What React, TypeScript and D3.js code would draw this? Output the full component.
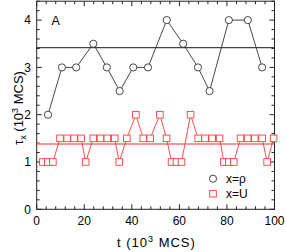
import * as d3 from 'd3';

// tau_rho (circles)
const rhoT = [4.75, 10.6, 16.6, 23.8, 29.5, 34.9, 40.6, 46.8, 54.7, 61.6, 67.8, 72.7, 80.8, 88.8, 94.8];
const rhoTau = [2, 3, 3, 3.5, 3, 2.5, 3, 3, 4, 3.5, 3, 2.5, 4, 4, 3];
const rhoMean = 3.42;

// tau_U (squares)
const uT = [2.6, 4.7, 6.8, 9.8, 12.8, 15.7, 18.7, 20.6, 23.8, 26.8, 29.7, 32.8, 34.7, 37.9, 41.7, 44.8, 47.7,
  51.8, 54.6, 56.7, 58.8, 60.9, 64.7, 67.9, 70.8, 73.8, 76.9, 78.7, 80.8, 82.9, 85.7, 88.7, 91.7, 94.8, 96.9, 99.6];
const uTau = [1, 1, 1, 1.5, 1.5, 1.5, 1.5, 1, 1.5, 1.5, 1.5, 1.5, 1, 1.5, 2, 1.5, 1.5,
  2, 1.5, 1, 1, 1, 2, 1.5, 1.5, 1.5, 1.5, 1, 1, 1, 1.5, 1.5, 1.5, 1.5, 1, 1.5];
const uMean = 1.38;

const xMajor = [0, 20, 40, 60, 80, 100];
const yMajor = [0, 1, 2, 3, 4];

const W = 286;
const H = 252;
const font = '"Liberation Sans", Arial, sans-serif';
const red = '#ff3b3b';

export default function App() {
  const x = d3.scaleLinear().domain([0, 100]).range([36.7, 274.5]);
  const y = d3.scaleLinear().domain([0, 4.4]).range([209.3, 1.2]);
  const [x0, x1] = x.range();
  const [y0, y1] = y.range();

  const xMinor = d3.range(0, 100.01, 4);
  const yMinor = d3.range(0, 4.41, 0.2);

  const rhoPts = rhoT.map((t, i) => [x(t), y(rhoTau[i])] as [number, number]);
  const uPts = uT.map((t, i) => [x(t), y(uTau[i])] as [number, number]);
  const line = d3.line();

  const sq = 6.6;
  const r = 3.6;

  return (
    <svg width={W} height={H} style={{ position: 'absolute', left: 0, top: 0, background: '#fff' }} fontFamily={font}>
      {/* ticks */}
      <g stroke="#222" strokeWidth={1}>
        {xMinor.map((v) => {
          const len = xMajor.includes(Math.round(v)) ? 5 : 3;
          return (
            <g key={'xt' + v}>
              <line x1={x(v)} x2={x(v)} y1={y0} y2={y0 - len} />
              <line x1={x(v)} x2={x(v)} y1={y1} y2={y1 + len} />
            </g>
          );
        })}
        {yMinor.map((v) => {
          const len = Math.abs(v - Math.round(v)) < 1e-6 ? 5 : 3;
          return (
            <g key={'yt' + v}>
              <line x1={x0} x2={x0 + len} y1={y(v)} y2={y(v)} />
              <line x1={x1} x2={x1 - len} y1={y(v)} y2={y(v)} />
            </g>
          );
        })}
      </g>
      <rect x={x0} y={y1} width={x1 - x0} height={y0 - y1} fill="none" stroke="#222" strokeWidth={1} />

      {/* mean lines */}
      <line x1={x0} x2={x1} y1={y(rhoMean)} y2={y(rhoMean)} stroke="#444" strokeWidth={1.2} />
      <line x1={x0} x2={x1} y1={y(uMean)} y2={y(uMean)} stroke="#ff7070" strokeWidth={1.6} />

      {/* rho series */}
      <path d={line(rhoPts) || ''} fill="none" stroke="#333" strokeWidth={0.9} />
      {rhoPts.map(([px, py], i) => (
        <circle key={'c' + i} cx={px} cy={py} r={r} fill="#fff" stroke="#333" strokeWidth={0.9} />
      ))}

      {/* U series */}
      <path d={line(uPts) || ''} fill="none" stroke={red} strokeWidth={0.9} />
      {uPts.map(([px, py], i) => (
        <rect key={'s' + i} x={px - sq / 2} y={py - sq / 2} width={sq} height={sq} fill="#fff" stroke={red} strokeWidth={0.9} />
      ))}

      {/* tick labels */}
      <g fontSize={12} fill="#000">
        {xMajor.map((v) => (
          <text key={'xl' + v} x={x(v)} y={225} textAnchor="middle">{v}</text>
        ))}
        {yMajor.map((v) => (
          <text key={'yl' + v} x={31} y={y(v) + 4.3} textAnchor="end">{v}</text>
        ))}
      </g>

      {/* panel label */}
      <text x={51.5} y={25} fontSize={12.5} fill="#000">A</text>

      {/* axis titles */}
      <text x={117} y={247} fontSize={13} letterSpacing={1} fill="#000">
        t (10<tspan dy={-5} fontSize={9}>3</tspan><tspan dy={5}> MCS)</tspan>
      </text>
      <text transform="translate(22.5,108) rotate(-90)" textAnchor="middle" fontSize={13} fill="#000">
        τ<tspan dy={3.5} fontSize={9}>x</tspan><tspan dy={-3.5}> (10</tspan><tspan dy={-5} fontSize={9}>3</tspan><tspan dy={5}> MCS)</tspan>
      </text>

      {/* legend */}
      <circle cx={213} cy={178.7} r={r} fill="#fff" stroke="#333" strokeWidth={0.9} />
      <text x={226} y={183} fontSize={12} fill="#000">x=ρ</text>
      <rect x={213 - sq / 2} y={193.7 - sq / 2} width={sq} height={sq} fill="#fff" stroke={red} strokeWidth={0.9} />
      <text x={226} y={198} fontSize={12} fill="#000">x=U</text>
    </svg>
  );
}
